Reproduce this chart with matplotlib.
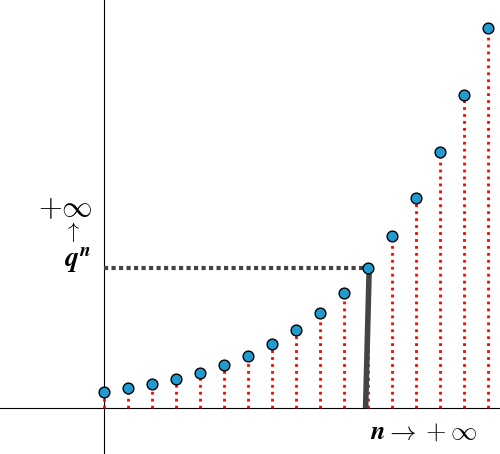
import numpy as np
import matplotlib.pyplot as plt

plt.rcParams["mathtext.fontset"] = "cm"

n = np.arange(17)
qn = [16, 20, 24, 29, 35, 43, 52, 64, 78, 95, 115, 140, 172, 210, 256, 313, 380]
k = 11  # highlighted term

fig = plt.figure(figsize=(5.0, 4.54), dpi=100)
ax = fig.add_axes([0, 0, 1, 1])
ax.set_xlim(-104 / 24, 396 / 24)
ax.set_ylim(-46, 408)
ax.axis("off")

ax.axhline(0, color="black", lw=0.8)
ax.axvline(0, color="black", lw=0.8)

ax.vlines(n, 0, qn, colors="red", linestyles=(0, (1, 1.5)), lw=2)
ax.plot([k - 0.1, k + 0.05], [0, qn[k]], color="#444444", lw=4, solid_capstyle="butt")
ax.plot([0, k], [qn[k], qn[k]], color="#444444", lw=3, ls=(0, (1, 0.8)))
ax.scatter(n, qn, s=60, color="#1f9bcf", edgecolors="black", linewidths=1, zorder=5)

ax.text(-1.6, 200, r"$+\infty$", fontsize=22, ha="center", va="center")
ax.text(-1.3, 176, r"$\uparrow$", fontsize=16, ha="center", va="center")
ax.text(-1.1, 148, r"$\mathbfit{q}^{\mathbfit{n}}$", fontsize=20, ha="center", va="center")
ax.text(13.3, -24, r"$\mathbfit{n} \rightarrow +\infty$", fontsize=19, ha="center", va="center")

fig.savefig("out.png", dpi=100)
